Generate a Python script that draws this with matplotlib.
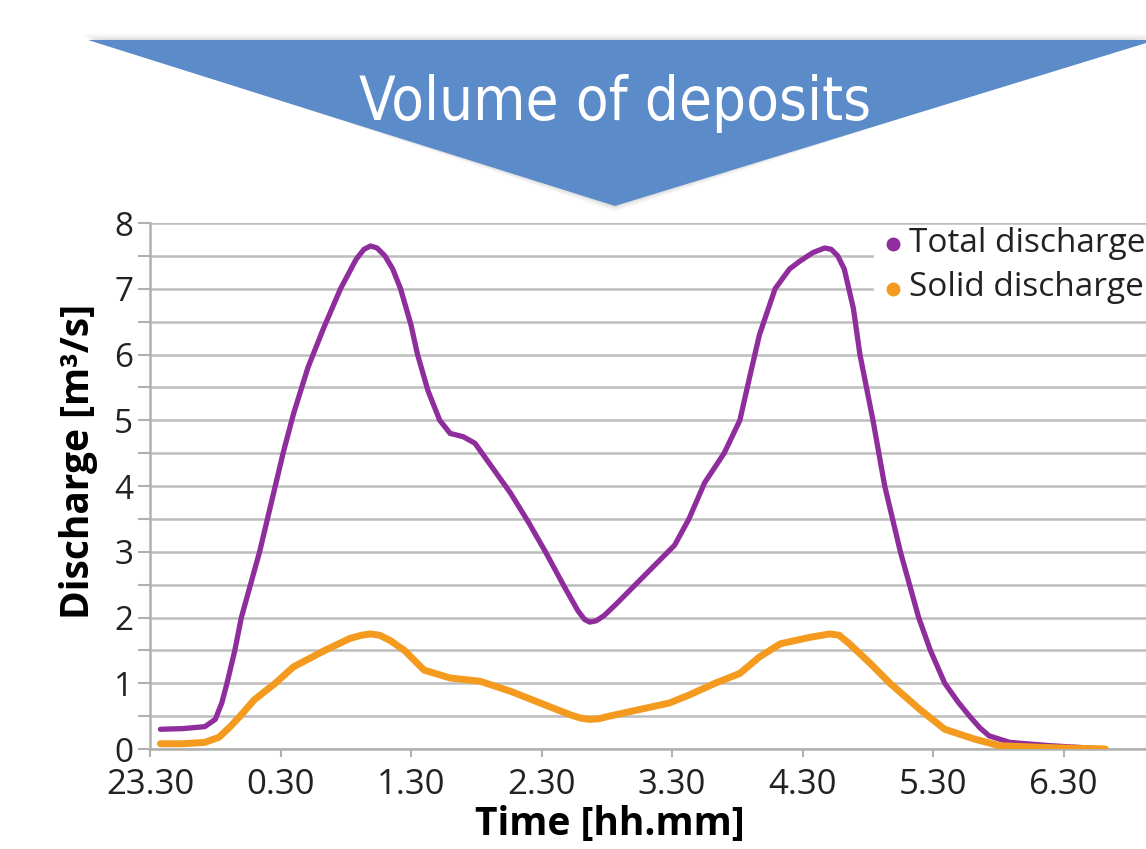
import matplotlib.pyplot as plt
from matplotlib.patches import Polygon
from matplotlib.ticker import MultipleLocator

# hours elapsed since 23.30
t_total = [0.08, 0.25, 0.42, 0.50, 0.55, 0.59, 0.65, 0.70, 0.77, 0.84, 0.90, 0.96, 1.02, 1.10,
           1.21, 1.33, 1.46, 1.58, 1.64, 1.69, 1.74, 1.80, 1.86, 1.92, 2.00, 2.05, 2.13, 2.22,
           2.30, 2.40, 2.49, 2.58, 2.67, 2.76, 2.90, 3.03, 3.18, 3.28, 3.33, 3.37, 3.42, 3.48,
           3.57, 3.72, 3.87, 4.02, 4.13, 4.25, 4.40, 4.52, 4.60, 4.67, 4.79, 4.90, 4.98, 5.08,
           5.17, 5.22, 5.27, 5.32, 5.39, 5.44, 5.54, 5.63, 5.75, 5.89, 5.98, 6.09, 6.19, 6.28,
           6.36, 6.43, 6.59, 6.90, 7.32]
total = [0.30, 0.31, 0.34, 0.45, 0.70, 1.00, 1.50, 2.00, 2.50, 3.00, 3.50, 4.00, 4.50, 5.10,
         5.80, 6.40, 7.00, 7.45, 7.60, 7.65, 7.62, 7.50, 7.30, 7.00, 6.45, 6.00, 5.45, 5.00,
         4.80, 4.75, 4.65, 4.40, 4.15, 3.90, 3.45, 3.00, 2.45, 2.10, 1.97, 1.93, 1.95, 2.03,
         2.20, 2.50, 2.80, 3.10, 3.50, 4.05, 4.50, 5.00, 5.70, 6.30, 7.00, 7.30, 7.42, 7.55,
         7.62, 7.60, 7.50, 7.30, 6.70, 6.00, 5.00, 4.00, 3.00, 2.00, 1.50, 1.00, 0.72, 0.50,
         0.32, 0.20, 0.10, 0.05, 0.00]

t_solid = [0.08, 0.25, 0.42, 0.53, 0.62, 0.69, 0.80, 0.96, 1.10, 1.34, 1.53, 1.62, 1.69, 1.76,
           1.84, 1.95, 2.10, 2.30, 2.53, 2.76, 2.99, 3.22, 3.30, 3.37, 3.44, 3.52, 3.75, 3.98,
           4.13, 4.33, 4.52, 4.67, 4.83, 5.06, 5.15, 5.21, 5.28, 5.36, 5.52, 5.67, 5.90, 6.09,
           6.32, 6.51, 6.90, 7.32]
solid = [0.08, 0.08, 0.10, 0.18, 0.35, 0.50, 0.75, 1.00, 1.25, 1.50, 1.68, 1.73, 1.75, 1.73,
         1.65, 1.50, 1.20, 1.08, 1.03, 0.88, 0.70, 0.52, 0.47, 0.45, 0.46, 0.50, 0.60, 0.70,
         0.82, 1.00, 1.15, 1.40, 1.60, 1.70, 1.73, 1.75, 1.73, 1.60, 1.30, 1.00, 0.60, 0.30,
         0.15, 0.05, 0.02, 0.00]

tick_pos = [0, 1, 2, 3, 4, 5, 6, 7]
tick_labels = ['23.30', '0.30', '1.30', '2.30', '3.30', '4.30', '5.30', '6.30']

plt.rcParams['font.family'] = ['Open Sans', 'DejaVu Sans']

W, H = 1146, 849
fig = plt.figure(figsize=(W / 100, H / 100), dpi=100)

# banner
bg = fig.add_axes([0, 0, 1, 1])
bg.set_xlim(0, W)
bg.set_ylim(H, 0)
bg.axis('off')
for i, a in enumerate([0.05, 0.08, 0.12]):
    d = 6 - 2 * i
    bg.add_patch(Polygon([[88 - d, 40 - d], [W + 10, 40 - d], [615, 206 + d]], closed=True,
                         facecolor='#888888', edgecolor='none', alpha=a))
bg.add_patch(Polygon([[88, 40], [W + 10, 40], [615, 206]], closed=True,
                     facecolor='#5b8bc9', edgecolor='none'))
bg.text(615, 103, 'Volume of deposits', color='white', fontsize=43,
        ha='center', va='center', fontstretch='condensed', family=['DejaVu Sans'])

# chart
left, right = 150, W
bottom, top = 749, 223
ax = fig.add_axes([left / W, (H - bottom) / H, (right - left) / W, (bottom - top) / H])
ax.set_xlim(0, (right - left) / 130.5)
ax.set_ylim(0, 8)

ax.plot(t_total, total, color='#8e2d9b', lw=3.8, solid_capstyle='round',
        solid_joinstyle='round', zorder=3)
ax.plot(t_solid, solid, color='#f39a1f', lw=5.0, solid_capstyle='round',
        solid_joinstyle='round', zorder=3)

ax.yaxis.set_major_locator(MultipleLocator(1))
ax.yaxis.set_minor_locator(MultipleLocator(0.5))
ax.grid(True, which='both', axis='y', color='#bdbdbd', lw=1.8, zorder=0)
ax.set_xticks(tick_pos)
ax.set_xticklabels(tick_labels)
for s in ['top', 'right']:
    ax.spines[s].set_visible(False)
for s in ['left', 'bottom']:
    ax.spines[s].set_color('#b0b0b0')
    ax.spines[s].set_linewidth(1.8)
ax.tick_params(axis='both', which='both', color='#b0b0b0', width=1.5, labelcolor='#222222')
ax.tick_params(axis='y', which='both', length=9, pad=3, labelsize=24)
ax.tick_params(axis='x', length=6, pad=8, labelsize=25)
ax.set_xlabel('Time [hh.mm]', fontsize=28, fontweight='bold')
ax.set_ylabel('Discharge [m³/s]', fontsize=28, fontweight='bold')
ax.xaxis.set_label_coords(0.462, -0.106)
ax.yaxis.set_label_coords(-0.052, 0.546)
ax.set_zorder(1)
ax.patch.set_alpha(0)

# legend
lax = fig.add_axes([0, 0, 1, 1])
lax.set_zorder(2)
lax.set_xlim(0, W)
lax.set_ylim(H, 0)
lax.axis('off')
lax.add_patch(Polygon([[874, 226], [W, 226], [W, 308], [874, 308]], closed=True,
                      facecolor='white', edgecolor='none'))
lax.plot([893], [244], 'o', color='#8e2d9b', ms=9)
lax.plot([893], [289], 'o', color='#f39a1f', ms=9)
lax.text(909, 243, 'Total discharge', fontsize=24, va='center', ha='left', color='#222222')
lax.text(909, 288, 'Solid discharge', fontsize=24, va='center', ha='left', color='#222222')

fig.savefig('out.png', dpi=100)
